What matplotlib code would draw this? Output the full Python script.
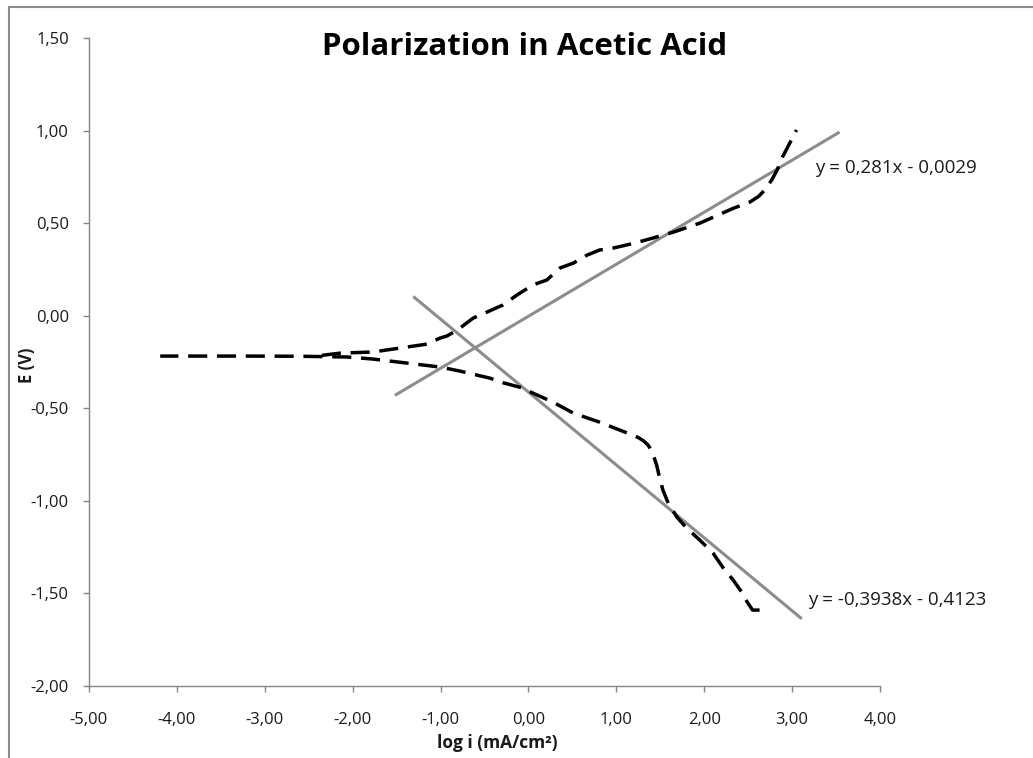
import matplotlib
matplotlib.use("Agg")
import matplotlib.pyplot as plt
from matplotlib.lines import Line2D
import numpy as np

# Cathodic branch (from most negative potential back to the corrosion region)
cath_x = [2.63, 2.55, 2.49, 2.41, 2.33, 2.21, 2.10, 1.95, 1.80, 1.69, 1.59, 1.53,
          1.49, 1.46, 1.43, 1.40, 1.36, 1.31, 1.25, 1.16, 1.04, 0.81, 0.51, 0.28,
          0.05, -0.06, -0.29, -0.44, -0.78, -1.01, -1.38, -1.77, -2.06, -2.6,
          -3.2, -3.8, -4.19]
cath_y = [-1.59, -1.59, -1.547, -1.482, -1.428, -1.358, -1.282, -1.212, -1.147,
          -1.088, -1.012, -0.942, -0.87, -0.81, -0.765, -0.728, -0.698, -0.676,
          -0.658, -0.640, -0.618, -0.575, -0.526, -0.467, -0.418, -0.391, -0.362,
          -0.337, -0.299, -0.277, -0.256, -0.234, -0.223, -0.219, -0.218, -0.218,
          -0.218]

# Anodic branch
anod_x = [-2.35, -2.14, -1.77, -1.38, -1.15, -1.007, -0.93, -0.81, -0.63, -0.47,
          -0.29, -0.13, 0.05, 0.21, 0.36, 0.51, 0.67, 0.81, 0.96, 1.19, 1.42,
          1.64, 1.95, 2.33, 2.52, 2.62, 2.70, 2.77, 2.83, 2.89, 2.95, 3.05]
anod_y = [-0.214, -0.202, -0.196, -0.169, -0.153, -0.121, -0.110, -0.078, -0.013,
          0.02, 0.058, 0.112, 0.166, 0.193, 0.258, 0.284, 0.328, 0.355, 0.365,
          0.39, 0.42, 0.45, 0.50, 0.58, 0.614, 0.645, 0.685, 0.735, 0.787, 0.857,
          0.911, 1.003]

# Linear trend lines: slope, intercept, x range
anod_fit = (0.281, -0.0029)
anod_fit_range = [-1.52, 3.54]
cath_fit = (-0.3938, -0.4123)
cath_fit_range = [-1.31, 3.11]

x_ticks = [-5, -4, -3, -2, -1, 0, 1, 2, 3, 4]
y_ticks = [-2.0, -1.5, -1.0, -0.5, 0.0, 0.5, 1.0, 1.5]

title = "Polarization in Acetic Acid"
xlabel = "log i (mA/cm²)"
ylabel = "E (V)"
anod_eq = "y = 0,281x - 0,0029"
cath_eq = "y = -0,3938x - 0,4123"

plt.rcParams['font.family'] = ['Open Sans', 'DejaVu Sans']

fig = plt.figure(figsize=(10.33, 7.58), dpi=100)
ax = fig.add_axes([89/1033, 1 - 686/758, (880-89)/1033, (686-38)/758])

gray = '#8c8c8c'
fx = np.array(anod_fit_range)
ax.plot(fx, anod_fit[0]*fx + anod_fit[1], color=gray, lw=2.2, solid_capstyle='butt')
fx = np.array(cath_fit_range)
ax.plot(fx, cath_fit[0]*fx + cath_fit[1], color=gray, lw=2.2, solid_capstyle='butt')

ax.plot(cath_x, cath_y, color='black', lw=2.5, dashes=(5.5, 2.8))
ax.plot(anod_x, anod_y, color='black', lw=2.5, dashes=(5.5, 2.8))

ax.set_xlim(-5, 4)
ax.set_ylim(-2, 1.5)
ax.set_xticks(x_ticks)
ax.set_yticks(y_ticks)
fmt = lambda v: f"{v:.2f}".replace('.', ',')
ax.set_xticklabels([fmt(v) for v in x_ticks])
ax.set_yticklabels([fmt(v) for v in y_ticks])

for s in ['top', 'right']:
    ax.spines[s].set_visible(False)
for s in ['left', 'bottom']:
    ax.spines[s].set_color('#868686')
    ax.spines[s].set_linewidth(1.0)
ax.tick_params(axis='both', direction='out', length=4.5, width=1.0, color='#868686',
               labelsize=12, labelcolor='#1a1a1a')
ax.tick_params(axis='x', pad=14)
ax.tick_params(axis='y', pad=10)

ax.set_xlabel(xlabel, fontsize=12.5, fontweight='bold', color='#1a1a1a')
ax.set_ylabel(ylabel, fontsize=12, fontweight='bold', color='#1a1a1a')
ax.xaxis.set_label_coords((497-89)/791, -(734-686)/648)
ax.yaxis.set_label_coords((36-89)/791, (686-365)/648)

fig.text(525/1033, 1 - 47/758, title, fontsize=22.5, fontweight='bold',
         ha='center', va='center', color='black')

ax.text(3.26, 0.80, anod_eq, fontsize=13.5, color='#1a1a1a', ha='left', va='center')
ax.text(3.18, -1.536, cath_eq, fontsize=13.5, color='#1a1a1a', ha='left', va='center')

# chart border (top and left visible)
fig.add_artist(Line2D([8.5/1033, 8.5/1033], [0, 1 - 7/758], transform=fig.transFigure,
                      color='#8c8c8c', lw=1.5))
fig.add_artist(Line2D([8.5/1033, 1], [1 - 7/758, 1 - 7/758], transform=fig.transFigure,
                      color='#8c8c8c', lw=1.5))

fig.savefig('out.png', dpi=100)
